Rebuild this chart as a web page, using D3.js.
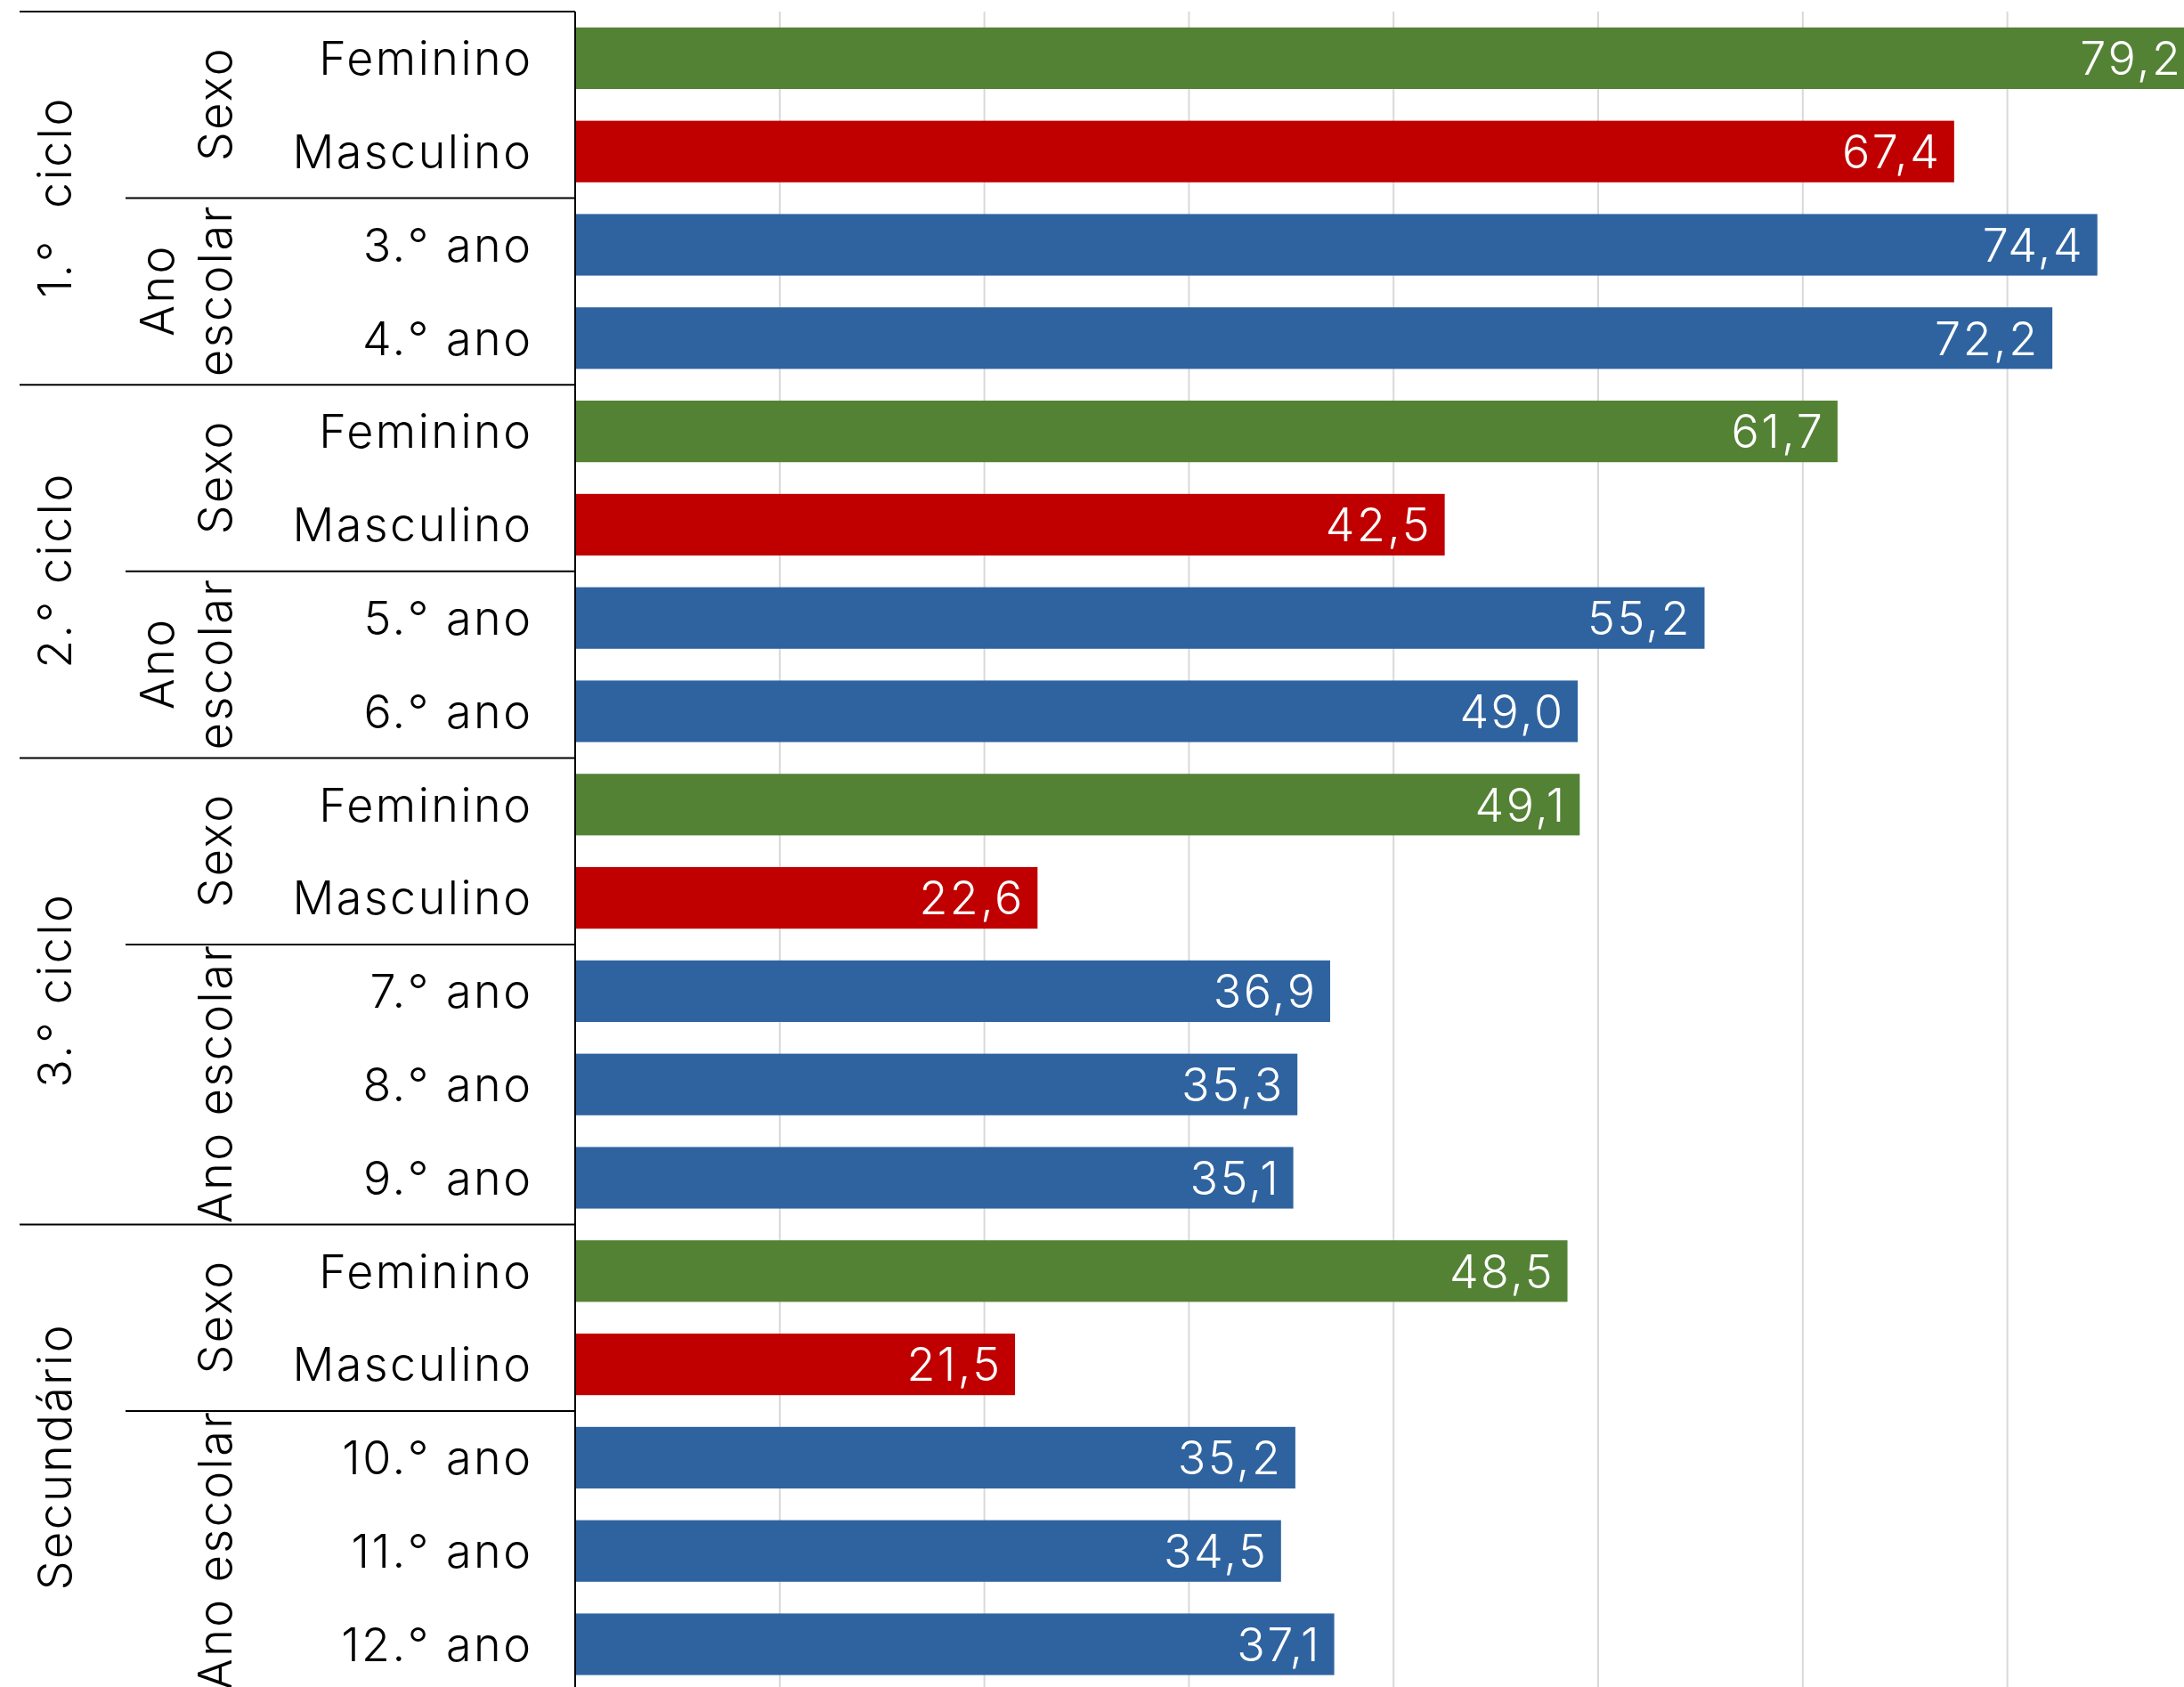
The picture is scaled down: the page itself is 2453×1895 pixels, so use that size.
<!DOCTYPE html>
<html lang="pt">
<head>
<meta charset="utf-8">
<script src="https://cdn.jsdelivr.net/npm/d3@7"></script>
<style>
  html, body { margin: 0; padding: 0; background: #fff; overflow: hidden; }
  svg { display: block; }
  text { font-family: "Inter", "Noto Sans", "DejaVu Sans", sans-serif; font-weight: 300; fill: #000; letter-spacing: 2.5px; }
</style>
</head>
<body>
<svg id="chart" width="2453" height="1895"></svg>
<script>
// Level 1: school cycle for each row
const cycle = [
  "1.°  ciclo", "1.°  ciclo", "1.°  ciclo", "1.°  ciclo",
  "2.° ciclo", "2.° ciclo", "2.° ciclo", "2.° ciclo",
  "3.° ciclo", "3.° ciclo", "3.° ciclo", "3.° ciclo", "3.° ciclo",
  "Secundário", "Secundário", "Secundário", "Secundário", "Secundário"
];
// Level 2: breakdown dimension for each row
const dimension = [
  "Sexo", "Sexo", "Ano escolar", "Ano escolar",
  "Sexo", "Sexo", "Ano escolar", "Ano escolar",
  "Sexo", "Sexo", "Ano escolar", "Ano escolar", "Ano escolar",
  "Sexo", "Sexo", "Ano escolar", "Ano escolar", "Ano escolar"
];
// Level 3: category labels
const categories = [
  "Feminino", "Masculino", "3.° ano", "4.° ano",
  "Feminino", "Masculino", "5.° ano", "6.° ano",
  "Feminino", "Masculino", "7.° ano", "8.° ano", "9.° ano",
  "Feminino", "Masculino", "10.° ano", "11.° ano", "12.° ano"
];
// Percentages
const values = [
  79.2, 67.4, 74.4, 72.2,
  61.7, 42.5, 55.2, 49.0,
  49.1, 22.6, 36.9, 35.3, 35.1,
  48.5, 21.5, 35.2, 34.5, 37.1
];
const gridTicks = [10, 20, 30, 40, 50, 60, 70, 80];

const colorFor = c => c === "Feminino" ? "#548235" : (c === "Masculino" ? "#C00000" : "#2F63A0");
const fmt = v => d3.format(".1f")(v).replace(".", ",");

const svg = d3.select("#chart");
const topY = 13, step = 104.8;
const axisX = 646, unit = 22.98;
const n = values.length;
const spacing = 2.5; // trailing letter-spacing after the last glyph

const y = d3.scaleBand()
  .domain(d3.range(n))
  .range([topY, topY + n * step])
  .paddingInner(0.34)
  .paddingOuter(0.17);

const x = d3.scaleLinear()
  .domain([0, 80])
  .range([axisX, axisX + 80 * unit]);

const bottomY = topY + n * step;
const fontSize = 52;
const capHalf = 18.8;

// vertical gridlines
svg.append("g")
  .selectAll("line")
  .data(gridTicks)
  .join("line")
  .attr("x1", d => x(d)).attr("x2", d => x(d))
  .attr("y1", topY).attr("y2", bottomY)
  .attr("stroke", "#d9d9d9").attr("stroke-width", 2);

// bars
svg.append("g")
  .selectAll("rect")
  .data(values)
  .join("rect")
  .attr("x", x(0))
  .attr("y", (d, i) => y(i))
  .attr("width", d => x(d) - x(0))
  .attr("height", y.bandwidth())
  .attr("fill", (d, i) => colorFor(categories[i]));

// value labels inside bar ends
svg.append("g")
  .selectAll("text")
  .data(values)
  .join("text")
  .attr("x", d => x(d) - 17 + spacing)
  .attr("y", (d, i) => y(i) + y.bandwidth() / 2 + capHalf)
  .attr("text-anchor", "end")
  .attr("font-size", fontSize)
  .style("fill", "#fff")
  .text(d => fmt(d));

// category labels
svg.append("g")
  .selectAll("text")
  .data(categories)
  .join("text")
  .attr("x", 596 + spacing)
  .attr("y", (d, i) => y(i) + y.bandwidth() / 2 + capHalf)
  .attr("text-anchor", "end")
  .attr("font-size", fontSize)
  .text(d => d);

// group runs of consecutive equal keys
function runs(keys) {
  const out = [];
  keys.forEach((k, i) => {
    const last = out[out.length - 1];
    if (last && last.key === k && last.end === i - 1) last.end = i;
    else out.push({ key: k, start: i, end: i });
  });
  return out;
}
const rowTop = i => topY + i * step;

const cycleRuns = runs(cycle);
const dimRuns = runs(cycle.map((c, i) => c + "|" + dimension[i]))
  .map(r => ({ ...r, label: dimension[r.start] }));

const lines = svg.append("g").attr("stroke", "#000").attr("stroke-width", 2);
// top border and separators between cycles
cycleRuns.forEach(r => {
  lines.append("line")
    .attr("x1", 22).attr("x2", axisX)
    .attr("y1", rowTop(r.start)).attr("y2", rowTop(r.start));
});
// separators between dimensions inside a cycle
dimRuns.filter(r => !cycleRuns.some(c => c.start === r.start)).forEach(r => {
  lines.append("line")
    .attr("x1", 141).attr("x2", axisX)
    .attr("y1", rowTop(r.start)).attr("y2", rowTop(r.start));
});
// category axis
lines.append("line")
  .attr("x1", axisX).attr("x2", axisX)
  .attr("y1", topY).attr("y2", bottomY);

// rotated cycle labels
svg.append("g")
  .selectAll("text")
  .data(cycleRuns)
  .join("text")
  .attr("transform", r => `translate(80,${(rowTop(r.start) + rowTop(r.end + 1)) / 2}) rotate(-90)`)
  .attr("x", spacing / 2)
  .attr("text-anchor", "middle")
  .attr("font-size", fontSize)
  .style("white-space", "pre")
  .text(r => r.key);

// rotated dimension labels; wrap onto two lines when the run is short
const dimG = svg.append("g");
dimRuns.forEach(r => {
  const span = r.end - r.start + 1;
  const words = r.label.split(" ");
  const rows = (span <= 2 && words.length > 1) ? words : [r.label];
  const cy = (rowTop(r.start) + rowTop(r.end + 1)) / 2;
  const t = dimG.append("text")
    .attr("transform", `translate(260,${cy}) rotate(-90)`)
    .attr("text-anchor", "middle")
    .attr("font-size", fontSize);
  rows.forEach((w, k) => {
    t.append("tspan")
      .attr("x", spacing / 2)
      .attr("y", -(rows.length - 1 - k) * 65)
      .text(w);
  });
});
</script>
</body>
</html>
